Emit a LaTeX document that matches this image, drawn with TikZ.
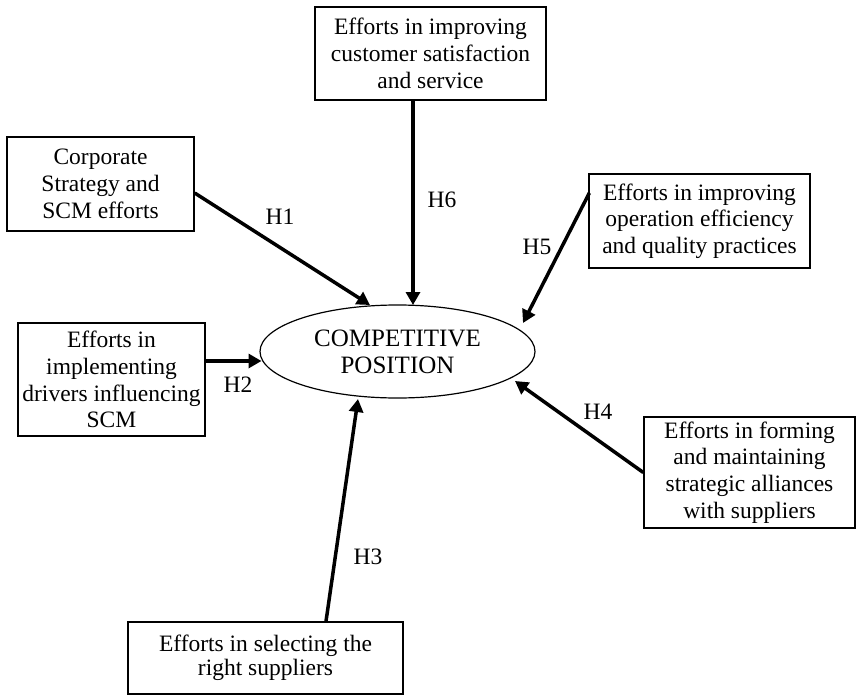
\documentclass[tikz,border=0pt]{standalone}
\usepackage{fontspec}
\setmainfont{Liberation Serif}
\usetikzlibrary{arrows.meta,calc,shapes.geometric}
\begin{document}
\begin{tikzpicture}[x=1pt,y=-1pt,
  box/.style={draw,line width=1.4pt,rectangle,inner sep=0pt,align=center,
    font=\fontsize{23.5}{26.7}\selectfont},
  hyp/.style={line width=3.5pt,-{Triangle[length=13pt,width=14pt]}},
  lab/.style={inner sep=0pt,font=\fontsize{23.5}{26.7}\selectfont}]
\useasboundingbox (0,0) rectangle (857,696);
\node[draw,ellipse,line width=1.2pt,inner sep=0pt,minimum width=275pt,minimum height=93pt,
  align=center,font=\fontsize{25}{26.7}\selectfont] (cp) at (397.5,351.5) {COMPETITIVE\\POSITION};
\node[box,minimum width=231pt,minimum height=93pt] (cust) at (430.5,53.5)
  {Efforts in improving\\customer satisfaction\\and service};
\node[box,minimum width=187pt,minimum height=94pt] (corp) at (100.5,184)
  {Corporate\\Strategy and\\SCM efforts};
\node[box,minimum width=221pt,minimum height=94pt] (oper) at (699.5,221)
  {Efforts in improving\\operation efficiency\\and quality practices};
\node[box,minimum width=187pt,minimum height=113pt] (impl) at (111.5,379.5)
  {Efforts in\\implementing\\drivers influencing\\SCM};
\node[box,minimum width=275pt,minimum height=72pt] (sel) at (265.5,658)
  {\raisebox{-4pt}{\shortstack{Efforts in selecting the\\right suppliers}}};
\node[box,minimum width=211pt,minimum height=111pt] (form) at (749.5,472.5)
  {Efforts in forming\\and maintaining\\strategic alliances\\with suppliers};
\draw[hyp] ($(corp.east)+(0,9)$) -- ($(cp.center)+(-27.5,-46.5)$);
\draw[hyp] ($(cust.south)+(-17.5,0)$) -- ($(cp.center)+(15.5,-46.5)$);
\draw[hyp] ($(oper.west)+(1,-28)$) -- ($(cp.center)+(125.5,-28.5)$);
\draw[hyp] ($(impl.east)+(0,-18.5)$) -- ($(cp.center)+(-136,9.5)$);
\draw[hyp] ($(sel.north)+(60.5,0)$) -- ($(cp.center)+(-39.5,47.5)$);
\draw[hyp] (form.west) -- ($(cp.center)+(117.5,29.5)$);
\node[lab] (h1) at (280,217) {H1};
\node[lab] (h2) at (238,385) {H2};
\node[lab] (h3) at (368,557) {H3};
\node[lab] (h4) at (598,412) {H4};
\node[lab] (h5) at (537,247) {H5};
\node[lab] (h6) at (442,200) {H6};
\end{tikzpicture}
\end{document}
